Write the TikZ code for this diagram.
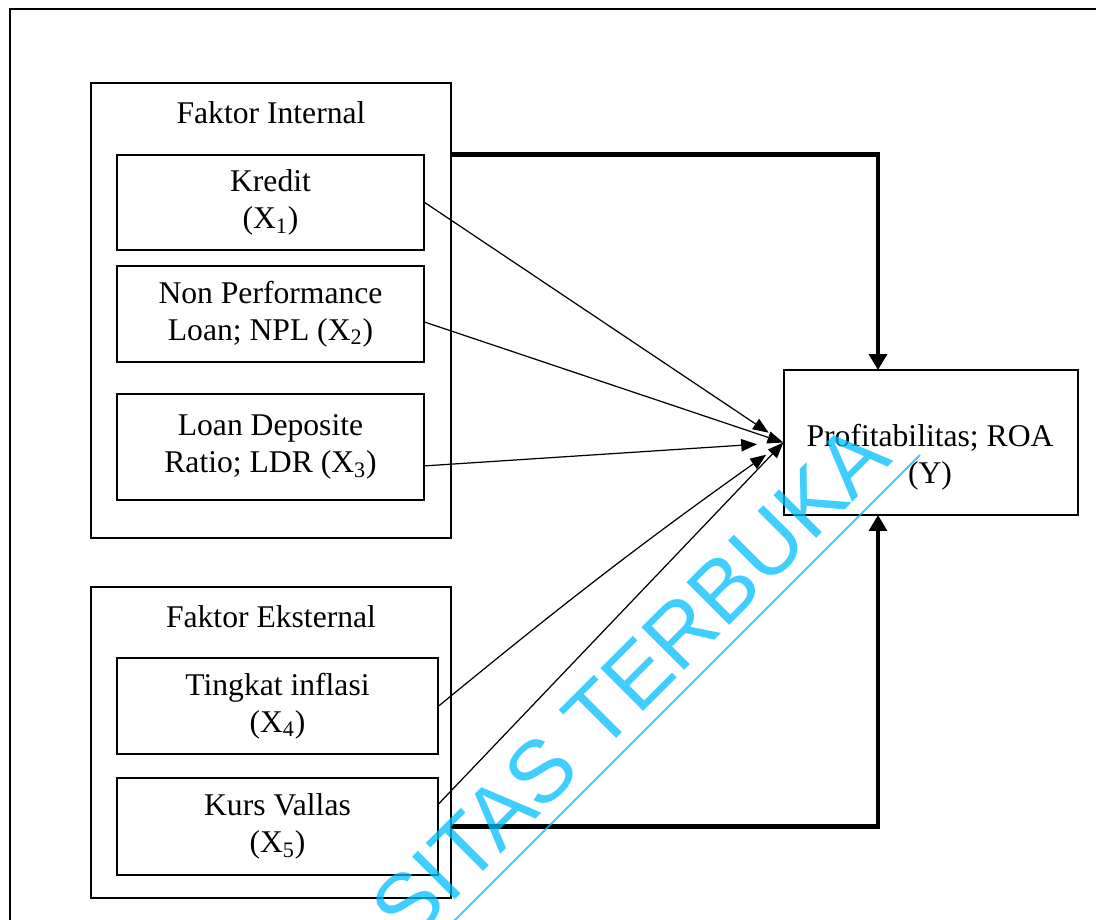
\documentclass[tikz,border=0pt]{standalone}
\usepackage{fontspec}
\setmainfont{Liberation Serif}
\newfontfamily\wmfont{Liberation Sans}
\usetikzlibrary{arrows.meta}
\definecolor{wmcyan}{RGB}{0,190,255}

\begin{document}
\begin{tikzpicture}[x=0.02cm,y=-0.02cm,
    font=\fontsize{18}{21}\selectfont,
    group/.style={draw,line width=0.8pt,minimum width=7.2cm},
    var/.style={draw,line width=0.8pt,align=center,minimum height=1.92cm},
    thin/.style={-{Triangle[length=9pt,width=7pt]},line width=0.7pt},
    heavy/.style={-{Triangle[length=9pt,width=10pt]},line width=2.8pt},
    wmark/.style={text=wmcyan,text opacity=0.75,font=\wmfont\fontsize{50}{50}\selectfont}]
  \useasboundingbox (0,0) rectangle (1096,920);
  \clip (0,0) rectangle (1096,920);
  \draw [line width=1.2pt] (10,9) rectangle (1200,1000);

  % group boxes
  \node (internal) [group,minimum height=9.1cm]  at (271,310.5) {};
  \node (external) [group,minimum height=6.22cm] at (271,742.5) {};
  \node (inttitle) at (271,113) {Faktor Internal};
  \node (exttitle) at (271,617) {Faktor Eksternal};

  % variables
  \node (kredit) [var,minimum width=6.14cm,minimum height=1.9cm] at (270.5,202.5)
        {Kredit\\(X\textsubscript{1})};
  \node (npl) [var,minimum width=6.14cm,below of=kredit,node distance=2.23cm]
        {Non Performance\\Loan; NPL (X\textsubscript{2})};
  \node (ldr) [var,minimum width=6.14cm,minimum height=2.12cm,below of=npl,node distance=2.66cm]
        {Loan Deposite\\Ratio; LDR (X\textsubscript{3})};
  \node (tingkat) [var,minimum width=6.42cm] at (277.5,706)
        {Tingkat inflasi\\(X\textsubscript{4})};
  \node (kurs) [var,minimum width=6.42cm,minimum height=1.94cm,below of=tingkat,node distance=2.41cm]
        {Kurs Vallas\\(X\textsubscript{5})};

  \node (Y) [draw,line width=0.8pt,minimum width=5.88cm,minimum height=2.9cm] at (931,442.5) {};
  \node (ytext) [align=center] at (930,457) {Profitabilitas; ROA\\(Y)};
  \coordinate (ytop) at (878,370);
  \coordinate (ybot) at (878,515);

  \draw [thin,shorten >=10pt] (kredit.east) to (Y.west);
  \draw [thin]                (npl.-3.4) to (Y.west);
  \draw [thin,shorten >=15pt] (ldr.-7.1) to (Y.west);
  \draw [thin,shorten >=12pt] (tingkat.east) to[bend left=2] (Y.west);
  \draw [thin]                (kurs.8.7) to (Y.west);
  \draw [heavy] (internal.east |- kredit.north) -| (ytop);
  \draw [heavy] (external.east |- kurs) -| (ybot);

  % watermark
  \node (wm) [wmark,anchor=base west,rotate=45] at (404,951) {SITAS TERBUKA};
  \draw [wmcyan,opacity=0.75,line width=1.1pt] (440,935) -- (920,455);
\end{tikzpicture}
\end{document}
